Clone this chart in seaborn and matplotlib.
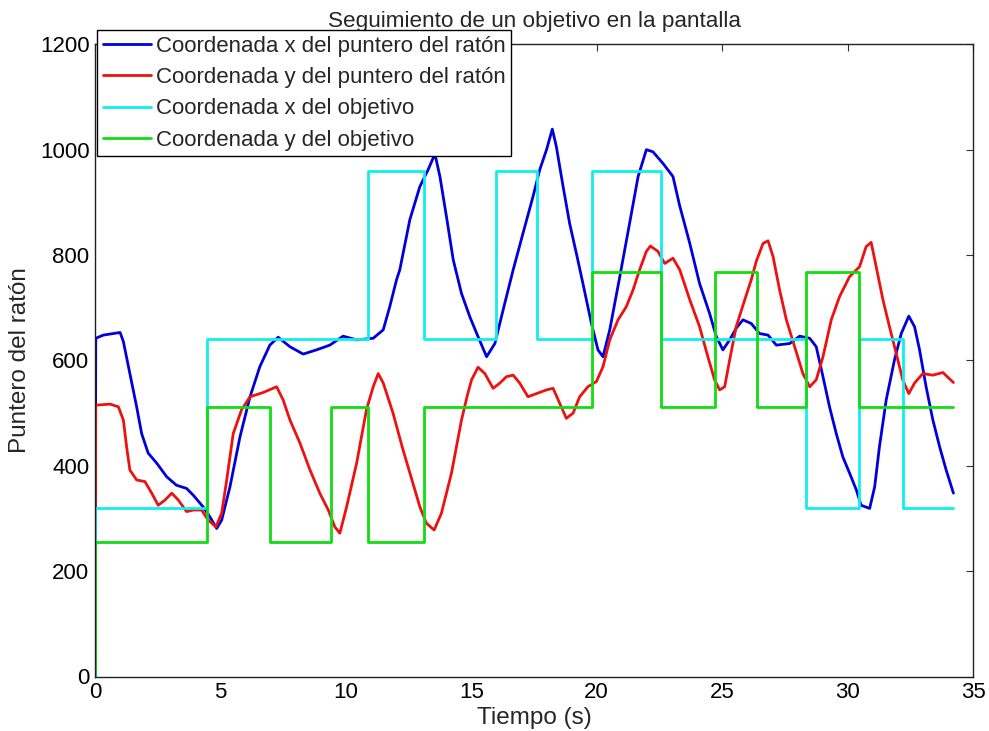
import matplotlib
matplotlib.use("Agg")
import matplotlib.pyplot as plt
import seaborn as sns
import pandas as pd

# ---- data ----
blue_t = [0, 0.03, 0.33, 1.0, 1.13, 1.39, 1.66, 1.86, 2.12, 2.46, 2.86, 3.25, 3.65, 3.92, 4.31, 4.58, 4.85, 5.05,
          5.38, 5.78, 6.18, 6.57, 6.97, 7.3, 7.77, 8.3, 8.83, 9.36, 9.89, 10.43, 11.09, 11.49, 11.75, 12.02, 12.15,
          12.55, 12.95, 13.28, 13.55, 13.75, 14.01, 14.28, 14.61, 14.94, 15.27, 15.61, 15.94, 16.27, 16.67, 17.06,
          17.46, 17.73, 18.0, 18.23, 18.39, 18.66, 18.92, 19.19, 19.45, 19.79, 20.05, 20.25, 20.52, 20.92, 21.31,
          21.65, 21.98, 22.24, 22.64, 23.04, 23.3, 23.71, 24.1, 24.5, 24.77, 25.03, 25.3, 25.56, 25.83, 26.16, 26.49,
          26.83, 27.16, 27.69, 28.09, 28.49, 28.75, 29.02, 29.28, 29.55, 29.81, 30.08, 30.35, 30.54, 30.88, 31.08,
          31.27, 31.54, 31.87, 32.14, 32.44, 32.67, 32.87, 33.13, 33.4, 33.67, 33.93, 34.22]
blue_v = [0, 642, 648, 653, 636, 575, 512, 461, 424, 405, 379, 363, 357, 344, 322, 303, 281, 297,
          360, 455, 531, 588, 629, 644, 626, 612, 620, 629, 646, 639, 642, 658, 702, 753, 772,
          867, 930, 962, 992, 949, 873, 791, 727, 683, 645, 607, 632, 696, 772, 841,
          911, 962, 1000, 1039, 1006, 930, 860, 803, 746, 670, 620, 607, 658, 759, 860,
          949, 1000, 996, 974, 949, 895, 822, 746, 689, 645, 620, 639, 661, 677, 670, 651,
          648, 629, 632, 646, 642, 626, 569, 512, 461, 417, 386, 354, 325, 319, 360,
          436, 525, 601, 651, 684, 664, 620, 550, 487, 436, 392, 348]

red_t = [0, 0.03, 0.6, 0.93, 1.13, 1.26, 1.39, 1.66, 1.99, 2.26, 2.52, 2.79, 3.06, 3.32, 3.65, 3.92, 4.25, 4.51,
         4.82, 5.05, 5.25, 5.51, 5.84, 6.18, 6.7, 7.24, 7.5, 7.77, 8.17, 8.57, 8.96, 9.3, 9.56, 9.76, 10.03, 10.43,
         10.82, 11.09, 11.29, 11.49, 11.88, 12.28, 12.48, 12.95, 13.21, 13.52, 13.81, 14.21, 14.61, 14.85, 15.01,
         15.27, 15.54, 15.87, 16.14, 16.4, 16.67, 16.93, 17.26, 17.6, 18.0, 18.26, 18.53, 18.79, 19.06, 19.32,
         19.65, 19.99, 20.25, 20.52, 20.85, 21.18, 21.45, 21.71, 21.98, 22.14, 22.44, 22.71, 23.04, 23.31, 23.71,
         24.1, 24.43, 24.7, 24.9, 25.1, 25.3, 25.56, 25.9, 26.16, 26.36, 26.63, 26.83, 27.03, 27.29, 27.56, 27.89,
         28.22, 28.49, 28.75, 29.02, 29.35, 29.68, 30.08, 30.48, 30.74, 30.94, 31.14, 31.41, 31.67, 31.94, 32.2,
         32.44, 32.67, 33.0, 33.4, 33.8, 34.22]
red_v = [0, 515, 517, 512, 487, 436, 392, 373, 370, 348, 325, 335, 348, 335, 313, 316, 316, 297,
         284, 310, 373, 461, 506, 531, 539, 550, 525, 487, 443, 392, 348, 316, 284, 272, 322, 405,
         506, 550, 575, 557, 500, 430, 398, 322, 291, 278, 310, 386, 487, 535, 563,
         587, 575, 547, 557, 569, 572, 557, 531, 537, 544, 547, 518, 490, 500, 531,
         550, 560, 588, 639, 677, 702, 734, 772, 807, 817, 807, 784, 794, 772, 715,
         664, 607, 563, 544, 550, 601, 664, 715, 753, 788, 822, 827, 797, 734, 677, 626,
         575, 550, 563, 607, 677, 721, 759, 778, 816, 824, 778, 715, 664, 613, 563,
         537, 557, 575, 572, 577, 558]

cyan_t = [0, 0, 4.46, 10.88, 13.1, 15.98, 17.62, 19.82, 22.57, 28.35, 30.47, 32.22, 34.2]
cyan_v = [0, 320, 640, 960, 640, 960, 640, 960, 640, 320, 640, 320, 320]

green_t = [0, 0, 4.46, 6.96, 9.42, 10.88, 13.1, 19.82, 22.57, 24.73, 26.38, 28.35, 30.47, 34.2]
green_v = [0, 256, 512, 256, 512, 256, 512, 768, 512, 768, 512, 768, 512, 512]

labels = ["Coordenada x del puntero del ratón", "Coordenada y del puntero del ratón",
          "Coordenada x del objetivo", "Coordenada y del objetivo"]
title = "Seguimiento de un objetivo en la pantalla"
xlabel = "Tiempo (s)"
ylabel = "Puntero del ratón"
xticks = [0, 5, 10, 15, 20, 25, 30, 35]
yticks = [0, 200, 400, 600, 800, 1000, 1200]

# ---- plot ----
sns.set_style("white")
plt.rcParams['font.family'] = ['Liberation Sans', 'DejaVu Sans']
plt.rcParams['font.size'] = 16

fig = plt.figure(figsize=(9.89, 7.31), dpi=100)
ax = fig.add_axes([95 / 989, 1 - 676.5 / 731, (973 - 95) / 989, (676.5 - 44.3) / 731])

lw = 2.0
sns.lineplot(x=blue_t, y=blue_v, sort=False, estimator=None, color="#0000dd", lw=lw, label=labels[0], ax=ax)
sns.lineplot(x=red_t, y=red_v, sort=False, estimator=None, color="#ee1111", lw=lw, label=labels[1], ax=ax)
sns.lineplot(x=cyan_t, y=cyan_v, sort=False, estimator=None, color="#11eeee", lw=lw, label=labels[2], ax=ax,
             drawstyle="steps-post")
sns.lineplot(x=green_t, y=green_v, sort=False, estimator=None, color="#11dd11", lw=lw, label=labels[3], ax=ax,
             drawstyle="steps-post")

ax.set_xlim(0, 35)
ax.set_ylim(0, 1200)
ax.set_xticks(xticks)
ax.set_yticks(yticks)
ax.tick_params(direction="in", length=5, width=0.8, top=True, right=True, labelsize=16, pad=4,
               colors="#333333", labelcolor="black")
for s in ax.spines.values():
    s.set_visible(True)
    s.set_color("#222222")
    s.set_linewidth(1.0)

ax.set_title(title, fontsize=16.2, pad=12.8)
ax.set_xlabel(xlabel, fontsize=17.5, labelpad=3)
ax.set_ylabel(ylabel, fontsize=17.5, labelpad=6)

leg = ax.legend(loc="upper left", bbox_to_anchor=(97 / 989, 1 - 30 / 731), bbox_transform=fig.transFigure,
                frameon=True, fancybox=False, borderaxespad=0, fontsize=16, handlelength=2.2,
                handletextpad=0.2, borderpad=0.25, labelspacing=0.47)
leg.get_frame().set_edgecolor("black")
leg.get_frame().set_linewidth(1.0)
leg.get_frame().set_alpha(1)

fig.savefig("out.png", dpi=100)
